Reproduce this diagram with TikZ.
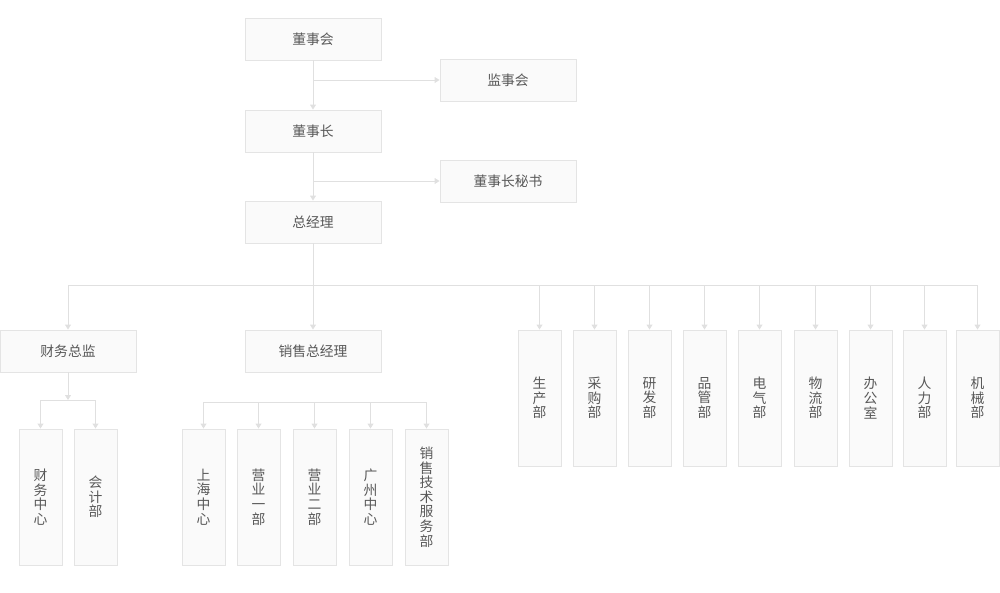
\documentclass[tikz,border=0pt]{standalone}
\usepackage{fontspec}
\newfontfamily\cjk{Noto Sans CJK SC}
\usetikzlibrary{positioning,arrows.meta}
\definecolor{boxFill}{RGB}{250,250,250}
\definecolor{boxLine}{RGB}{228,228,228}
\definecolor{linkLine}{RGB}{224,224,224}
\definecolor{txtGray}{RGB}{88,88,88}

\begin{document}
\begin{tikzpicture}[x=1pt,y=-1pt,font={\cjk\fontsize{13.8}{14.6}\selectfont},text=txtGray,
  >={Triangle[length=5pt,width=6pt]},
  hbox/.style={draw=boxLine,line width=0.9pt,fill=boxFill,minimum width=136pt,minimum height=42pt,inner sep=0pt},
  vbox/.style={draw=boxLine,line width=0.9pt,fill=boxFill,minimum width=43pt,minimum height=136pt,inner sep=0pt,align=center},
  link/.style={draw=linkLine,line width=0.9pt},
  flow/.style={link,->}]
\useasboundingbox (0,0) rectangle (1000,592);
% top chain
\node[hbox] (dsh)  at (313,39)  {董事会};
\node[hbox] (jsh)  at (508,80)  {监事会};
\node[hbox] (dsz)  at (313,131) {董事长};
\node[hbox] (mish) at (508,181) {董事长秘书};
\node[hbox] (zjl)  at (313,222) {总经理};
\coordinate (bus) at (313,285);
% second level
\node[hbox] (cwzj) at (68,351)  {财务总监};
\node[hbox] (xszj) at (313,351) {销售总经理};
\node[vbox] (scb)  at (539.5,398) {生\\产\\部};
\node[vbox] (cgb)  at (594.5,398) {采\\购\\部};
\node[vbox] (yfb)  at (649.5,398) {研\\发\\部};
\node[vbox] (pgb)  at (704.5,398) {品\\管\\部};
\node[vbox] (dqb)  at (759.5,398) {电\\气\\部};
\node[vbox] (wlb)  at (815.5,398) {物\\流\\部};
\node[vbox] (bgs)  at (870.5,398) {办\\公\\室};
\node[vbox] (rlb)  at (924.5,398) {人\\力\\部};
\node[vbox] (jxb)  at (977.5,398) {机\\械\\部};
% finance
\coordinate (cwbus) at (68,400);
\node[vbox] (cwzx) at (40.5,497) {财\\务\\中\\心};
\node[vbox] (kjb)  at (95.5,497) {会\\计\\部};
% sales
\coordinate (xsbus) at (313,402);
\node[vbox] (shzx) at (203.5,497) {上\\海\\中\\心};
\node[vbox] (yy1)  at (258.5,497) {营\\业\\一\\部};
\node[vbox] (yy2)  at (314.5,497) {营\\业\\二\\部};
\node[vbox] (gzzx) at (370.5,497) {广\\州\\中\\心};
\node[vbox] (jsfw) at (426.5,497) {销\\售\\技\\术\\服\\务\\部};

\draw[flow] (dsh) -- (dsz);
\draw[flow] (dsh.south |- jsh.west) -- (jsh.west);
\draw[flow] (dsz) -- (zjl);
\draw[flow] (dsz.south |- mish.west) -- (mish.west);
\draw[link] (zjl.south) -- (bus);
\draw[link] (bus -| cwzj) -- (bus -| jxb);
\draw[flow] (bus -| cwzj) -- (cwzj.north);
\draw[flow] (bus) -- (xszj.north);
\draw[flow] (bus -| scb) -- (scb.north);
\draw[flow] (bus -| cgb) -- (cgb.north);
\draw[flow] (bus -| yfb) -- (yfb.north);
\draw[flow] (bus -| pgb) -- (pgb.north);
\draw[flow] (bus -| dqb) -- (dqb.north);
\draw[flow] (bus -| wlb) -- (wlb.north);
\draw[flow] (bus -| bgs) -- (bgs.north);
\draw[flow] (bus -| rlb) -- (rlb.north);
\draw[flow] (bus -| jxb) -- (jxb.north);

\draw[flow] (cwzj.south) -- (cwbus);
\draw[link] (cwbus -| cwzx) -- (cwbus -| kjb);
\draw[flow] (cwbus -| cwzx) -- (cwzx.north);
\draw[flow] (cwbus -| kjb) -- (kjb.north);

\draw[link] (xsbus -| shzx) -- (xsbus -| jsfw);
\draw[flow] (xsbus -| shzx) -- (shzx.north);
\draw[flow] (xsbus -| yy1) -- (yy1.north);
\draw[flow] (xsbus -| yy2) -- (yy2.north);
\draw[flow] (xsbus -| gzzx) -- (gzzx.north);
\draw[flow] (xsbus -| jsfw) -- (jsfw.north);
\end{tikzpicture}
\end{document}
